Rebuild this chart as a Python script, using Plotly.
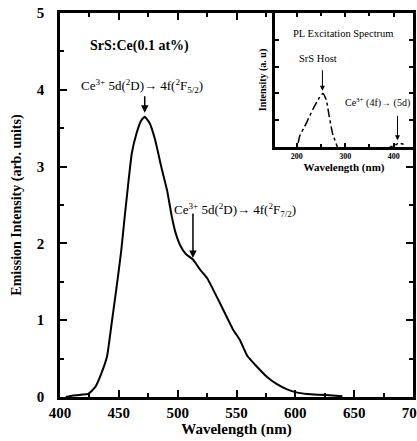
import plotly.graph_objects as go

# ---------------------------------------------------------------------------
# Data
# ---------------------------------------------------------------------------

# Main PL emission spectrum of SrS:Ce(0.1 at%)
em_wavelength = [405, 411, 418, 424, 430, 435, 440, 444, 448, 452, 455, 458, 461,
                 465, 469, 472, 476, 481, 486, 491, 495, 498, 502, 507, 513, 519,
                 525, 536, 547, 553, 559, 567, 576, 584, 593, 601, 610, 620, 632, 640]
em_intensity = [0.0, 0.02, 0.03, 0.04, 0.13, 0.30, 0.53, 0.97, 1.42, 1.90, 2.35, 2.78, 3.17,
                3.43, 3.60, 3.65, 3.57, 3.34, 3.00, 2.69, 2.35, 2.15, 1.98, 1.86, 1.79, 1.66,
                1.55, 1.22, 0.88, 0.74, 0.54, 0.40, 0.26, 0.17, 0.10, 0.06, 0.04, 0.03, 0.02, 0.01]

# Inset: PL excitation spectrum (dash-dot)
ex_wavelength = [203, 206, 220, 233, 247, 254, 261, 267, 274, 284]
ex_intensity = [0.03, 0.08, 0.18, 0.28, 0.37, 0.40, 0.35, 0.23, 0.10, 0.0]
ex_tail_wavelength = [392, 402, 410, 418, 426]
ex_tail_intensity = [0.0, 0.01, 0.03, 0.02, 0.015]

x_ticks = [400, 450, 500, 550, 600, 650, 700]
y_ticks = [0, 1, 2, 3, 4, 5]
inset_x_ticks = [200, 300, 400]

SERIF = "Liberation Serif"

fig = go.Figure()

# ── Main emission curve ──────────────────────────────────────────────────
fig.add_trace(go.Scatter(
    x=em_wavelength, y=em_intensity,
    mode="lines",
    line=dict(color="black", width=2, shape="spline", smoothing=0.4),
    showlegend=False,
))

# ── Inset excitation curve ───────────────────────────────────────────────
fig.add_trace(go.Scatter(
    x=ex_wavelength, y=ex_intensity,
    mode="lines",
    line=dict(color="black", width=1.5, dash="dashdot", shape="spline", smoothing=0.5),
    xaxis="x2", yaxis="y2", showlegend=False,
))
fig.add_trace(go.Scatter(
    x=ex_tail_wavelength, y=ex_tail_intensity,
    mode="lines",
    line=dict(color="black", width=1.5, dash="dot"),
    xaxis="x2", yaxis="y2", showlegend=False,
))

axis_common = dict(
    showline=True, linecolor="black", linewidth=2.5, mirror="allticks",
    ticks="inside", tickcolor="black", tickwidth=1.5,
    showgrid=False, zeroline=False, automargin=False,
)

fig.update_layout(
    width=417, height=441,
    margin=dict(l=60, r=4, t=13, b=44),
    paper_bgcolor="white", plot_bgcolor="white",
    font=dict(family=SERIF, color="black"),
    xaxis=dict(
        **axis_common, domain=[0, 1], range=[400, 700],
        tickvals=x_ticks, ticklen=7, ticklabeloverflow="allow",
        minor=dict(dtick=25, ticklen=4, ticks="inside", tickcolor="black"),
        tickfont=dict(family=SERIF, size=15, weight="bold"),
        title=dict(text="Wavelength (nm)", standoff=2,
                   font=dict(family=SERIF, size=15, weight="bold")),
    ),
    yaxis=dict(
        **axis_common, domain=[0, 1], range=[0, 5],
        tickvals=y_ticks, ticklen=7, ticklabelstandoff=10,
        minor=dict(dtick=0.5, ticklen=4, ticks="inside", tickcolor="black"),
        tickfont=dict(family=SERIF, size=15, weight="bold"),
        title=dict(text="Emission Intensity (arb. units)", standoff=12,
                   font=dict(family=SERIF, size=14, weight="bold")),
    ),
    xaxis2=dict(
        **axis_common, anchor="y2", domain=[0.609, 1.0], range=[155, 440],
        tickvals=inset_x_ticks, ticklen=4,
        minor=dict(dtick=50, ticklen=3, ticks="inside", tickcolor="black"),
        tickfont=dict(family=SERIF, size=8, weight="bold"),
        title=dict(text="Wavelength (nm)", standoff=2,
                   font=dict(family=SERIF, size=11, weight="bold")),
    ),
    yaxis2=dict(
        **axis_common, anchor="x2", domain=[0.651, 1.0], range=[0, 1],
        dtick=0.2, ticklen=4, showticklabels=False,
        title=dict(text="Intensity (a. u)", standoff=4,
                   font=dict(family=SERIF, size=10, weight="bold")),
    ),
)

# white background of inset so main frame does not show through
fig.add_shape(type="rect", xref="x2 domain", yref="y2 domain",
              x0=0, x1=1, y0=0, y1=1, fillcolor="white",
              line=dict(width=0), layer="below")

ann_font = dict(family=SERIF, size=13, color="black")
arrow_style = dict(showarrow=True, arrowhead=2, arrowsize=1, arrowwidth=1.5,
                   arrowcolor="black", ax=0)

fig.add_annotation(
    x=0.08, y=0.915, xref="paper", yref="paper", xanchor="left", yanchor="middle",
    text="SrS:Ce(0.1 at%)", showarrow=False,
    font=dict(family=SERIF, size=14, color="black", weight="bold"),
)

# 5d -> 4f(2F5/2) label and arrow
fig.add_annotation(
    x=470, y=4.05, xref="x", yref="y", showarrow=False,
    text="Ce<sup>3+</sup> 5d(<sup>2</sup>D)→ 4f(<sup>2</sup>F<sub>5/2</sub>)",
    font=ann_font,
)
fig.add_annotation(x=472, y=3.70, xref="x", yref="y", text="", ay=-18, **arrow_style)

# 5d -> 4f(2F7/2) label and arrow
fig.add_annotation(
    x=495, y=2.44, xref="x", yref="y", showarrow=False, xanchor="left",
    text="Ce<sup>3+</sup> 5d(<sup>2</sup>D)→ 4f(<sup>2</sup>F<sub>7/2</sub>)",
    font=ann_font,
)
fig.add_annotation(x=513, y=1.81, xref="x", yref="y", text="", ay=-46, **arrow_style)

# Inset texts
fig.add_annotation(
    x=0.5, y=0.9, xref="x2 domain", yref="y2 domain",
    text="PL Excitation Spectrum", showarrow=False,
    font=dict(family=SERIF, size=10.5, color="black"),
)
fig.add_annotation(
    x=244, y=0.66, xref="x2", yref="y2", showarrow=False,
    text="SrS Host", font=dict(family=SERIF, size=10.5, color="black"),
)
fig.add_annotation(
    x=253, y=0.42, xref="x2", yref="y2", text="", showarrow=True, arrowhead=2,
    arrowsize=1, arrowwidth=1, arrowcolor="black", ax=0, ay=-22,
)
fig.add_annotation(
    x=366, y=0.33, xref="x2", yref="y2", showarrow=False,
    text="Ce<sup>3+</sup> (4f)→ (5d)", font=dict(family=SERIF, size=10, color="black"),
)
fig.add_annotation(
    x=408, y=0.05, xref="x2", yref="y2", text="", showarrow=True, arrowhead=2,
    arrowsize=1, arrowwidth=1, arrowcolor="black", ax=0, ay=-26,
)

fig.write_html("out.html", config={"displayModeBar": False},
               post_script="document.body.style.margin='0';")
